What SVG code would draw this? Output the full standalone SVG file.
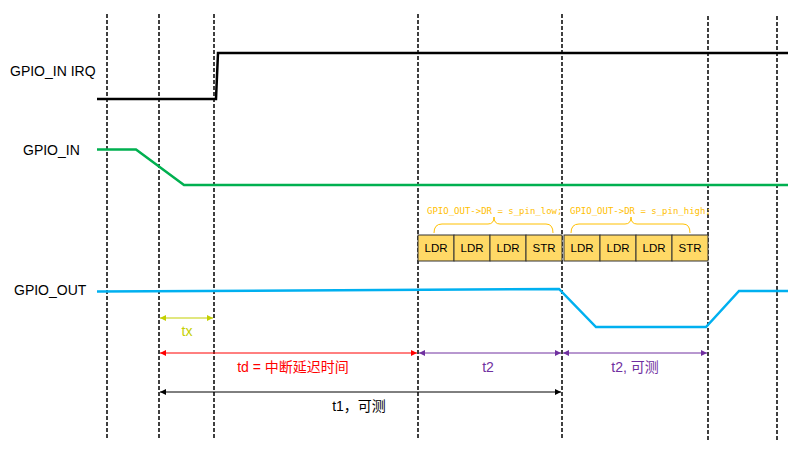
<svg xmlns="http://www.w3.org/2000/svg" width="800" height="453" viewBox="0 0 800 453">
<style>
.lbl{font-family:"Liberation Sans",Arial,sans-serif;font-size:14px;fill:#000}
.grid{stroke:#000;stroke-width:1.5;stroke-dasharray:4,2;fill:none}
.sig{fill:none;stroke-width:2.5;stroke-linejoin:miter}
.box{fill:#FFD966;stroke:#333;stroke-width:1}
.bt{font-family:"Liberation Sans",Arial,sans-serif;font-size:11.5px;fill:#000;text-anchor:middle}
.code{font-family:"DejaVu Sans Mono","Liberation Mono",monospace;font-size:9px;fill:#FFC000}
.brace{fill:none;stroke:#FFC000;stroke-width:1}
.ml{font-family:"Liberation Sans","Noto Sans CJK SC",sans-serif;font-size:14px;text-anchor:middle}
</style>
<defs>
<marker id="aY" viewBox="0 0 8 8" refX="8" refY="4" markerWidth="6" markerHeight="6" orient="auto-start-reverse" markerUnits="userSpaceOnUse"><path d="M0,0L8,4L0,8z" fill="#C4D000"/></marker>
<marker id="aR" viewBox="0 0 8 8" refX="8" refY="4" markerWidth="6" markerHeight="6" orient="auto-start-reverse" markerUnits="userSpaceOnUse"><path d="M0,0L8,4L0,8z" fill="#FF0000"/></marker>
<marker id="aP" viewBox="0 0 8 8" refX="8" refY="4" markerWidth="6" markerHeight="6" orient="auto-start-reverse" markerUnits="userSpaceOnUse"><path d="M0,0L8,4L0,8z" fill="#7030A0"/></marker>
<marker id="aK" viewBox="0 0 8 8" refX="8" refY="4" markerWidth="6" markerHeight="6" orient="auto-start-reverse" markerUnits="userSpaceOnUse"><path d="M0,0L8,4L0,8z" fill="#000"/></marker>
</defs>
<rect width="800" height="453" fill="#fff"/>
<g id="gridlines">
<line class="grid" x1="107" y1="14" x2="107" y2="440"/>
<line class="grid" x1="159" y1="14" x2="159" y2="440"/>
<line class="grid" x1="214" y1="14" x2="214" y2="440"/>
<line class="grid" x1="418" y1="14" x2="418" y2="440"/>
<line class="grid" x1="562" y1="14" x2="562" y2="440"/>
<line class="grid" x1="708" y1="16" x2="708" y2="442"/>
<line class="grid" x1="777" y1="16" x2="777" y2="442"/>
</g>
<g id="labels">
<text class="lbl" x="10" y="76">GPIO_IN IRQ</text>
<text class="lbl" x="23" y="155">GPIO_IN</text>
<text class="lbl" x="14" y="295">GPIO_OUT</text>
</g>
<g id="signals">
<polyline class="sig" stroke="#000" points="97,99 216,99 218,53 788,53"/>
<polyline class="sig" stroke="#00B050" points="97,149.5 136,149.5 184,185 788,185"/>
<polyline class="sig" stroke="#00B0F0" points="97,291.5 559,289 596,327 706,327 739,291 788,291"/>
</g>
<g id="code-low">
<text class="code" x="427" y="214">GPIO_OUT-&gt;DR = s_pin_low;</text>
<path class="brace" d="M434,233 Q434,224 442,224 L488,224 Q494,224 494,217 Q494,224 500,224 L546,224 Q553,224 553,233"/>
<rect class="box" x="418" y="235" width="36" height="26"/><text class="bt" x="436" y="252">LDR</text>
<rect class="box" x="454" y="235" width="36" height="26"/><text class="bt" x="472" y="252">LDR</text>
<rect class="box" x="490" y="235" width="36" height="26"/><text class="bt" x="508" y="252">LDR</text>
<rect class="box" x="526" y="235" width="36" height="26"/><text class="bt" x="544" y="252">STR</text>
</g>
<g id="code-high">
<text class="code" x="570" y="214">GPIO_OUT-&gt;DR = s_pin_high;</text>
<path class="brace" d="M571,233 Q571,224 579,224 L625,224 Q631,224 631,217 Q631,224 637,224 L683,224 Q690,224 690,233"/>
<rect class="box" x="564" y="235" width="36" height="26"/><text class="bt" x="582" y="252">LDR</text>
<rect class="box" x="600" y="235" width="36" height="26"/><text class="bt" x="618" y="252">LDR</text>
<rect class="box" x="636" y="235" width="36" height="26"/><text class="bt" x="654" y="252">LDR</text>
<rect class="box" x="672" y="235" width="36" height="26"/><text class="bt" x="690" y="252">STR</text>
</g>
<g id="connectors">
<line x1="160" y1="318" x2="213" y2="318" stroke="#C4D000" stroke-width="1.2" marker-start="url(#aY)" marker-end="url(#aY)"/>
<line x1="160" y1="353" x2="417" y2="353" stroke="#FF0000" stroke-width="1" marker-start="url(#aR)" marker-end="url(#aR)"/>
<line x1="419" y1="353" x2="561" y2="353" stroke="#7030A0" stroke-width="1" marker-start="url(#aP)" marker-end="url(#aP)"/>
<line x1="563" y1="353" x2="707" y2="353" stroke="#7030A0" stroke-width="1" marker-start="url(#aP)" marker-end="url(#aP)"/>
<line x1="160" y1="392" x2="561" y2="392" stroke="#000" stroke-width="1" marker-start="url(#aK)" marker-end="url(#aK)"/>
</g>
<g id="measure-labels">
<text class="ml" x="187" y="336" fill="#C4D000">tx</text>
<text class="ml" x="293" y="372" fill="#FF0000">td = 中断延迟时间</text>
<text class="ml" x="488" y="372" fill="#7030A0">t2</text>
<text class="ml" x="635" y="372" fill="#7030A0">t2, 可测</text>
<text class="ml" x="359" y="411" fill="#000">t1，可测</text>
</g>
</svg>
